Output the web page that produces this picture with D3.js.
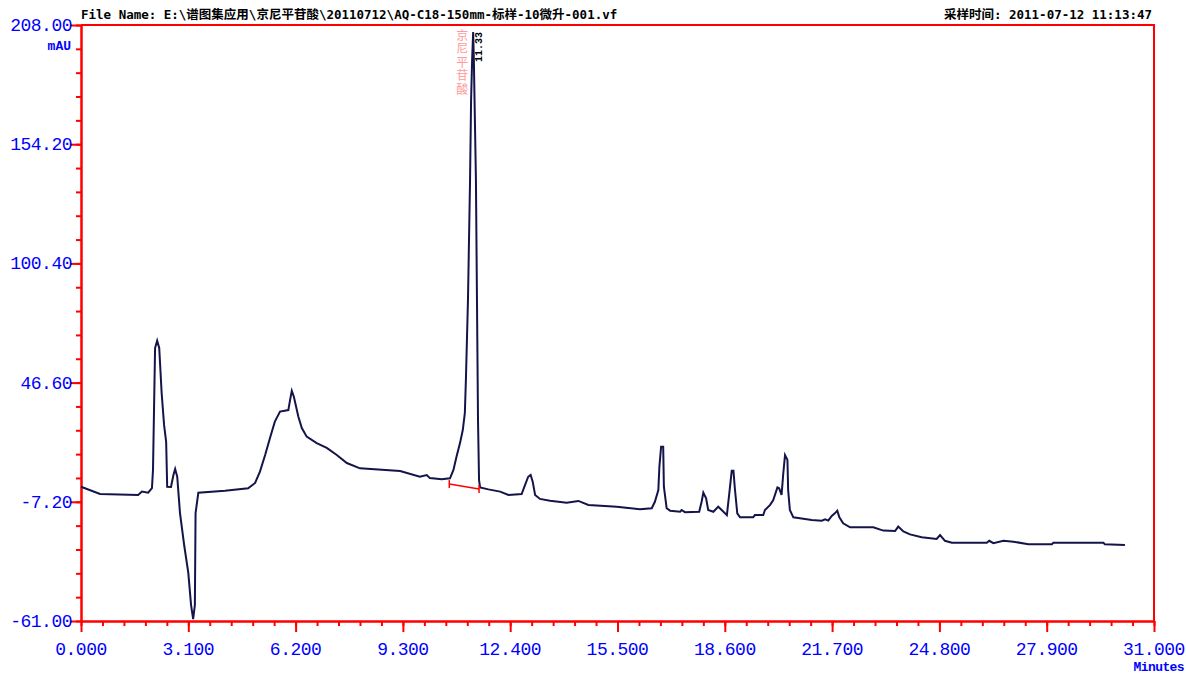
<!DOCTYPE html>
<html>
<head>
<meta charset="utf-8">
<script src="https://cdn.jsdelivr.net/npm/d3@7"></script>
<style>
  body { margin: 0; background: #fff; }
  svg { display: block; }
</style>
</head>
<body>
<div id="chart"></div>
<script>
// chromatogram trace (minutes, mAU)
const times = [0.00, 0.55, 1.65, 1.76, 1.94, 2.05, 2.08, 2.14, 2.20, 2.26, 2.33, 2.40, 2.46, 2.49, 2.60, 2.67, 2.72, 2.78, 2.86, 2.98,
  3.10, 3.18, 3.24, 3.29, 3.31, 3.39, 4.16, 4.83, 5.03, 5.17, 5.32, 5.46, 5.60, 5.75, 5.99, 6.04, 6.09, 6.15, 6.28, 6.38,
  6.52, 6.81, 7.10, 7.39, 7.68, 8.06, 9.22, 9.79, 9.99, 10.08, 10.42, 10.66, 10.76, 10.85, 10.95, 11.03, 11.09, 11.12, 11.18, 11.24,
  11.27, 11.30, 11.33, 11.35, 11.38, 11.41, 11.44, 11.47, 11.50, 11.53, 11.77, 12.11, 12.35, 12.73, 12.83, 12.92, 12.99, 13.05, 13.12, 13.26,
  13.55, 14.03, 14.37, 14.66, 15.48, 16.15, 16.49, 16.58, 16.68, 16.71, 16.76, 16.82, 16.84, 16.92, 17.02, 17.31, 17.35, 17.45, 17.86, 17.93,
  17.98, 18.06, 18.12, 18.27, 18.41, 18.51, 18.66, 18.73, 18.80, 18.85, 18.89, 18.96, 19.04, 19.42, 19.47, 19.71, 19.76, 19.91, 20.00, 20.12,
  20.17, 20.24, 20.29, 20.34, 20.41, 20.43, 20.48, 20.58, 20.77, 21.11, 21.40, 21.50, 21.59, 21.69, 21.78, 21.85, 21.91, 22.02, 22.22, 22.89,
  23.18, 23.52, 23.61, 23.76, 23.95, 24.29, 24.72, 24.82, 24.96, 25.16, 26.17, 26.24, 26.36, 26.65, 26.94, 27.37, 28.05, 28.09, 29.54, 29.58,
  30.16];
const mau = [-0.4, -3.7, -4.1, -2.6, -3.1, -1.0, 7.2, 62.2, 65.5, 62.2, 41.9, 27.5, 19.9, -0.4, -0.5, 4.9, 7.6, 4.1, -12.3, -26.7,
  -39.3, -53.8, -60.1, -53.8, -12.3, -3.1, -2.2, -1.1, 1.3, 6.4, 13.9, 21.6, 29.0, 33.5, 34.2, 38.7, 42.9, 40.2, 31.2, 26.1,
  22.2, 19.3, 17.1, 13.9, 10.3, 7.9, 6.7, 4.1, 4.9, 3.5, 3.0, 3.4, 7.2, 13.2, 19.3, 25.2, 32.9, 47.8, 83.9, 138.0,
  174.2, 192.2, 204.8, 192.2, 165.1, 138.0, 83.9, 29.7, 2.6, -0.7, -1.6, -2.6, -4.1, -3.7, 0.4, 4.1, 4.9, 1.9, -4.1, -5.9,
  -6.7, -7.6, -6.8, -8.6, -9.4, -10.6, -10.1, -7.2, -1.9, 8.6, 17.7, 17.7, -0.4, -10.1, -11.2, -11.7, -10.9, -11.9, -11.7, -7.2,
  -3.1, -5.6, -10.9, -11.7, -9.4, -10.9, -13.2, -3.4, 6.8, 6.8, -1.1, -12.4, -14.2, -14.2, -13.2, -13.2, -10.9, -8.6, -6.4, -0.7,
  -1.1, -4.1, 5.7, 13.9, 11.7, -1.9, -10.9, -14.2, -14.6, -15.4, -15.7, -15.1, -15.7, -13.6, -12.4, -11.2, -14.2, -16.9, -18.7, -18.7,
  -20.2, -20.4, -18.4, -20.6, -21.9, -23.2, -24.0, -22.2, -24.8, -25.7, -25.7, -24.8, -25.9, -24.8, -25.2, -26.4, -26.4, -25.7, -25.7, -26.4,
  -26.7];

// integration baseline under the main peak
const baseTimes = [10.64, 11.50];
const baseMau = [0.8, -1.4];

const peakName = "京尼平苷酸";
const peakTime = "11.33";
const peakAt = 11.33;

const xTicks = [0, 3.1, 6.2, 9.3, 12.4, 15.5, 18.6, 21.7, 24.8, 27.9, 31];
const xTickLabels = ["0.000", "3.100", "6.200", "9.300", "12.400", "15.500", "18.600", "21.700", "24.800", "27.900", "31.000"];
const yTicks = [208, 154.2, 100.4, 46.6, -7.2, -61];
const yTickLabels = ["208.00", "154.20", "100.40", "46.60", "-7.20", "-61.00"];

const fileName = "File Name: E:\\谱图集应用\\京尼平苷酸\\20110712\\AQ-C18-150mm-标样-10微升-001.vf";
const sampleTime = "采样时间: 2011-07-12 11:13:47";

const width = 1186, height = 675;
const plotLeft = 81, plotRight = 1154, plotTop = 25, plotBottom = 621;
const red = "#ff0000", blue = "#0000ff", ink = "#14144a";
const labelFont = "'Liberation Mono', 'DejaVu Sans Mono', monospace";
const headFont = "'DejaVu Sans Mono', 'Noto Sans CJK SC', monospace";

const svg = d3.select("#chart").append("svg")
  .attr("width", width)
  .attr("height", height);

const x = d3.scaleLinear().domain([0, 31]).range([plotLeft, plotRight]);
const y = d3.scaleLinear().domain([-61, 208]).range([plotBottom, plotTop]);

// minor ticks: 5 per major interval
const xMinor = d3.range(0, 51).map((i) => i * 0.62);
const yMinor = d3.range(0, 26).map((i) => -61 + i * 10.76);

const styleAxis = (g) => {
  g.selectAll("path, line").attr("stroke", red).attr("stroke-width", 2);
  g.selectAll("text").remove();
};

svg.append("g")
  .attr("transform", `translate(0,${plotBottom})`)
  .call(d3.axisBottom(x).tickValues(xMinor).tickSize(5).tickSizeOuter(0).tickFormat(""))
  .call(styleAxis);
svg.append("g")
  .attr("transform", `translate(0,${plotBottom})`)
  .call(d3.axisBottom(x).tickValues(xTicks).tickSize(11).tickSizeOuter(0).tickFormat(""))
  .call(styleAxis);
svg.append("g")
  .attr("transform", `translate(${plotLeft},0)`)
  .call(d3.axisLeft(y).tickValues(yMinor).tickSize(5).tickSizeOuter(0).tickFormat(""))
  .call(styleAxis);
svg.append("g")
  .attr("transform", `translate(${plotLeft},0)`)
  .call(d3.axisLeft(y).tickValues(yTicks).tickSize(11).tickSizeOuter(0).tickFormat(""))
  .call(styleAxis);

// frame top + right
svg.append("path")
  .attr("d", `M${plotLeft},${plotTop}H${plotRight}V${plotBottom}`)
  .attr("fill", "none")
  .attr("stroke", red)
  .attr("stroke-width", 2);

svg.selectAll(".xlab")
  .data(xTicks)
  .enter()
  .append("text")
  .attr("class", "xlab")
  .attr("x", (d) => x(d))
  .attr("y", plotBottom + 34)
  .attr("text-anchor", "middle")
  .attr("fill", blue)
  .style("font", `18px ${labelFont}`)
  .style("letter-spacing", "-0.5px")
  .text((d, i) => xTickLabels[i]);

svg.selectAll(".ylab")
  .data(yTicks)
  .enter()
  .append("text")
  .attr("class", "ylab")
  .attr("x", 72)
  .attr("y", (d) => y(d) + 6)
  .attr("text-anchor", "end")
  .attr("fill", blue)
  .style("font", `18px ${labelFont}`)
  .style("letter-spacing", "-0.5px")
  .text((d, i) => yTickLabels[i]);

svg.append("text")
  .attr("x", 71)
  .attr("y", 50)
  .attr("text-anchor", "end")
  .attr("fill", blue)
  .style("font", `bold 13px ${labelFont}`)
  .text("mAU");

svg.append("text")
  .attr("x", 1184)
  .attr("y", 671)
  .attr("text-anchor", "end")
  .attr("fill", blue)
  .style("font", `bold 13px ${labelFont}`)
  .style("letter-spacing", "-0.6px")
  .text("Minutes");

// header
svg.append("text")
  .attr("x", plotLeft)
  .attr("y", 19)
  .attr("fill", "#000")
  .style("font", `bold 12.5px ${headFont}`)
  .text(fileName);

svg.append("text")
  .attr("x", 1152)
  .attr("y", 19)
  .attr("text-anchor", "end")
  .attr("fill", "#000")
  .style("font", `bold 12.5px ${headFont}`)
  .text(sampleTime);

// trace
const points = times.map((t, i) => [t, mau[i]]);
const line = d3.line().x((d) => x(d[0])).y((d) => y(d[1]));

svg.append("path")
  .datum(points)
  .attr("d", line)
  .attr("fill", "none")
  .attr("stroke", ink)
  .attr("stroke-width", 2)
  .attr("stroke-linejoin", "miter");

// baseline with end markers
const basePts = baseTimes.map((t, i) => [t, baseMau[i]]);
svg.append("path")
  .datum(basePts)
  .attr("d", line)
  .attr("fill", "none")
  .attr("stroke", red)
  .attr("stroke-width", 1.5);
svg.selectAll(".bmark")
  .data(basePts)
  .enter()
  .append("line")
  .attr("x1", (d) => x(d[0]))
  .attr("x2", (d) => x(d[0]))
  .attr("y1", (d) => y(d[1]) - 4)
  .attr("y2", (d) => y(d[1]) + 4)
  .attr("stroke", red)
  .attr("stroke-width", 1.5);

// peak labels: vertical compound name, rotated retention time
svg.append("text")
  .attr("x", x(peakAt) - 11)
  .attr("y", 29)
  .attr("fill", "#ff9a9a")
  .style("writing-mode", "vertical-rl")
  .style("font", "12px 'Noto Sans CJK SC'")
  .style("letter-spacing", "1.5px")
  .text(peakName);

svg.append("text")
  .attr("transform", `translate(${x(peakAt) + 9},62) rotate(-90)`)
  .attr("fill", "#000")
  .style("font", `bold 10px ${labelFont}`)
  .text(peakTime);
</script>
</body>
</html>
